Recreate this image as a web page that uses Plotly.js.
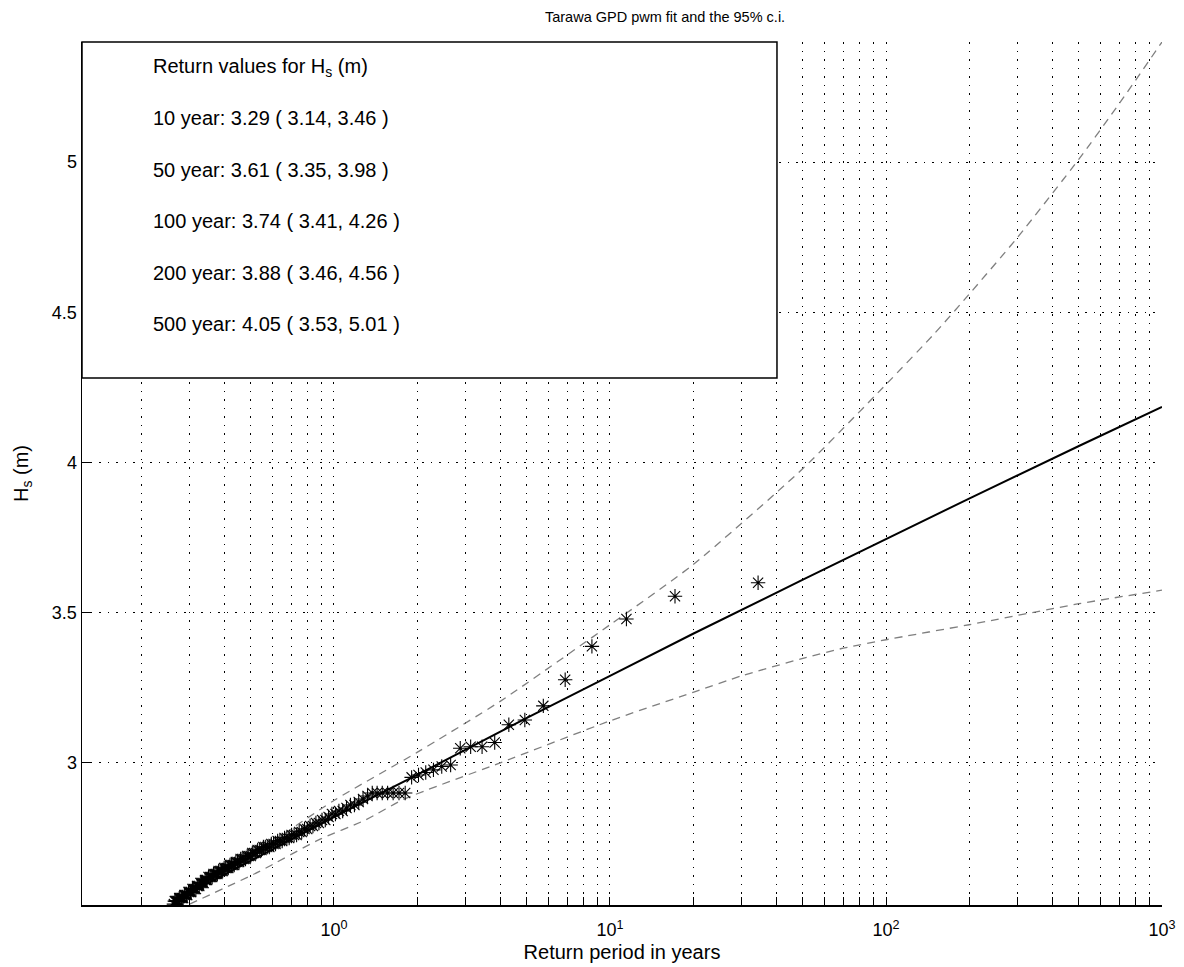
<!DOCTYPE html>
<html>
<head>
<meta charset="utf-8">
<script src="https://cdn.plot.ly/plotly-3.0.1.min.js"></script>
<style>
  html, body { margin: 0; padding: 0; background: #fff; }
  #chart { width: 1184px; height: 967px; }
</style>
</head>
<body>
<div id="chart"></div>
<script>
// ---- Observed exceedances (return period in years, Hs in m) ----
const returnPeriod = [
  34.4, 17.2, 11.47, 8.6, 6.88, 5.733, 4.914, 4.3, 3.822, 3.44,
  3.127, 2.867, 2.646, 2.457, 2.293, 2.15, 2.024, 1.911, 1.811, 1.72,
  1.638, 1.564, 1.496, 1.433, 1.376, 1.323, 1.274, 1.229, 1.186, 1.147,
  1.110, 1.075, 1.042, 1.012, 0.983, 0.956, 0.930, 0.905, 0.882, 0.860,
  0.839, 0.819, 0.800, 0.782, 0.764, 0.748, 0.732, 0.717, 0.702, 0.688,
  0.675, 0.662, 0.649, 0.637, 0.625, 0.614, 0.604, 0.593, 0.583, 0.573,
  0.564, 0.555, 0.546, 0.538, 0.529, 0.521, 0.513, 0.506, 0.499, 0.491,
  0.485, 0.478, 0.471, 0.465, 0.459, 0.453, 0.447, 0.441, 0.435, 0.430,
  0.425, 0.420, 0.414, 0.410, 0.405, 0.400, 0.395, 0.391, 0.387, 0.382,
  0.378, 0.374, 0.370, 0.366, 0.362, 0.358, 0.355, 0.351, 0.347, 0.344,
  0.341, 0.337, 0.334, 0.331, 0.328, 0.325, 0.321, 0.319, 0.316, 0.313,
  0.310, 0.307, 0.304, 0.302, 0.299, 0.297, 0.294, 0.292, 0.289, 0.287,
  0.284, 0.282, 0.280, 0.277, 0.275, 0.273, 0.271, 0.269, 0.267, 0.265,
  0.263
];
const hsObserved = [
  3.600, 3.555, 3.479, 3.388, 3.277, 3.190, 3.143, 3.127, 3.068, 3.054,
  3.054, 3.049, 2.993, 2.988, 2.977, 2.968, 2.960, 2.952, 2.90, 2.90,
  2.90, 2.90, 2.90, 2.90, 2.90, 2.89, 2.88, 2.87, 2.86, 2.86,
  2.85, 2.84, 2.84, 2.83, 2.83, 2.82, 2.81, 2.81, 2.80, 2.80,
  2.79, 2.79, 2.78, 2.78, 2.77, 2.77, 2.76, 2.76, 2.76, 2.75,
  2.75, 2.75, 2.74, 2.74, 2.74, 2.73, 2.73, 2.73, 2.72, 2.72,
  2.72, 2.72, 2.71, 2.71, 2.71, 2.70, 2.70, 2.70, 2.69, 2.69,
  2.69, 2.68, 2.68, 2.68, 2.68, 2.67, 2.67, 2.67, 2.66, 2.66,
  2.66, 2.66, 2.65, 2.65, 2.65, 2.65, 2.64, 2.64, 2.64, 2.64,
  2.63, 2.63, 2.63, 2.63, 2.62, 2.62, 2.62, 2.62, 2.61, 2.61,
  2.61, 2.60, 2.60, 2.60, 2.60, 2.59, 2.59, 2.59, 2.58, 2.58,
  2.58, 2.58, 2.57, 2.57, 2.57, 2.57, 2.56, 2.56, 2.56, 2.56,
  2.55, 2.55, 2.55, 2.55, 2.55, 2.54, 2.54, 2.54, 2.54, 2.54,
  2.53
];

// ---- GPD (pwm) fitted return level curve ----
const fitPeriod = [0.263, 0.5, 1, 2, 5, 10, 20, 50, 100, 200, 500, 1000];
const fitHs     = [2.54, 2.675, 2.82, 2.96, 3.15, 3.29, 3.43, 3.61, 3.745, 3.88, 4.055, 4.185];

// ---- 95% confidence interval ----
const upperPeriod = [0.3, 0.5, 1, 2, 4, 10, 20, 50, 100, 150, 200, 300, 500, 700, 1000];
const upperHs     = [2.565, 2.69, 2.875, 3.035, 3.205, 3.46, 3.66, 3.98, 4.26, 4.43, 4.56, 4.75, 5.01, 5.195, 5.40];
const lowerPeriod = [0.3, 0.535, 0.88, 1.3, 1.8, 4, 10, 20, 30, 50, 70, 100, 200, 500, 1000];
const lowerHs     = [2.53, 2.638, 2.744, 2.81, 2.88, 3.0, 3.14, 3.235, 3.29, 3.348, 3.382, 3.41, 3.46, 3.53, 3.575];

// ---- Return value table ----
const tableYears = ['10', '50', '100', '200', '500'];
const tableValue = ['3.29', '3.61', '3.74', '3.88', '4.05'];
const tableLow   = ['3.14', '3.35', '3.41', '3.46', '3.53'];
const tableHigh  = ['3.46', '3.98', '4.26', '4.56', '5.01'];

// ---- Tick values / labels ----
const xTickVals = [0.2,0.3,0.4,0.5,0.6,0.7,0.8,0.9,
                   1,2,3,4,5,6,7,8,9,
                   10,20,30,40,50,60,70,80,90,
                   100,200,300,400,500,600,700,800,900,1000];
const xMajorLabels = {1: '10<sup>0</sup>', 10: '10<sup>1</sup>', 100: '10<sup>2</sup>', 1000: '10<sup>3</sup>'};
const xTickText = xTickVals.map(v => xMajorLabels[v] || '');
const yTickVals = [3, 3.5, 4, 4.5, 5];
const yTickText = ['3', '3.5', '4', '4.5', '5'];

const FONT = 'Liberation Sans, Arial, Helvetica, sans-serif';

const traces = [
  {
    x: upperPeriod, y: upperHs, type: 'scatter', mode: 'lines',
    line: {color: '#7f7f7f', width: 1.3, dash: '8px,6px', shape: 'spline', smoothing: 0.6}, hoverinfo: 'skip'
  },
  {
    x: lowerPeriod, y: lowerHs, type: 'scatter', mode: 'lines',
    line: {color: '#7f7f7f', width: 1.3, dash: '8px,6px', shape: 'spline', smoothing: 0.6}, hoverinfo: 'skip'
  },
  {
    x: fitPeriod, y: fitHs, type: 'scatter', mode: 'lines',
    line: {color: '#000', width: 2}
  },
  {
    x: returnPeriod, y: hsObserved, type: 'scatter', mode: 'markers',
    marker: {symbol: 'asterisk-open', size: 12, color: '#000', line: {color: '#000', width: 1.1}}
  }
];

// Box geometry (paper coords)
const boxX1 = 0.6435, boxY0 = 0.6107;
const textX = 0.0635;
const headerY = 0.9705, rowStart = 0.9115, rowStep = 0.0597;

const annotations = [
  {
    xref: 'paper', yref: 'paper', x: textX, y: headerY, xanchor: 'left', yanchor: 'middle',
    text: 'Return values for H<sub>s</sub> (m)', showarrow: false,
    font: {family: FONT, size: 20, color: '#000'}
  }
];
tableYears.forEach((yr, i) => {
  annotations.push({
    xref: 'paper', yref: 'paper', x: textX, y: rowStart - i * rowStep,
    xanchor: 'left', yanchor: 'middle', showarrow: false,
    text: yr + ' year: ' + tableValue[i] + ' ( ' + tableLow[i] + ', ' + tableHigh[i] + ' )',
    font: {family: FONT, size: 20, color: '#000'}
  });
});

const layout = {
  width: 1184, height: 967,
  margin: {l: 82, r: 22, t: 42, b: 62},
  paper_bgcolor: '#fff', plot_bgcolor: '#fff',
  showlegend: false,
  font: {family: FONT, color: '#000', size: 18},
  title: {
    text: 'Tarawa GPD pwm fit and the 95% c.i.',
    font: {family: FONT, size: 14.5, color: '#000'},
    x: 0.5617, xref: 'container', xanchor: 'center',
    y: 0.983, yref: 'container', yanchor: 'middle'
  },
  xaxis: {
    type: 'log', range: [-0.913, 3],
    tickvals: xTickVals, ticktext: xTickText,
    ticks: 'inside', ticklen: 8, tickcolor: '#000', tickwidth: 1,
    ticklabelstandoff: 8,
    showline: true, linecolor: '#000', linewidth: 1.5, mirror: false,
    showgrid: true, gridcolor: '#000', gridwidth: 1, griddash: '1.5px,7px',
    zeroline: false,
    tickfont: {family: FONT, size: 18, color: '#000'},
    title: {text: 'Return period in years', font: {family: FONT, size: 20, color: '#000'}, standoff: 6},
    automargin: false
  },
  yaxis: {
    range: [2.527, 5.4],
    tickvals: yTickVals, ticktext: yTickText,
    ticks: 'inside', ticklen: 10, tickcolor: '#000', tickwidth: 1,
    showline: true, linecolor: '#000', linewidth: 1.5, mirror: false,
    showgrid: true, gridcolor: '#000', gridwidth: 1, griddash: '1.5px,7px',
    zeroline: false,
    tickfont: {family: FONT, size: 18, color: '#000'},
    title: {text: 'H<sub>s</sub> (m)', font: {family: FONT, size: 20, color: '#000'}, standoff: 18},
    automargin: false
  },
  shapes: [
    {
      type: 'rect', xref: 'paper', yref: 'paper', layer: 'above',
      x0: 0, x1: boxX1, y0: boxY0, y1: 1,
      fillcolor: '#fff', line: {color: '#000', width: 1.5}
    }
  ],
  annotations: annotations
};

Plotly.newPlot('chart', traces, layout, {displayModeBar: false, staticPlot: true});
</script>
</body>
</html>
